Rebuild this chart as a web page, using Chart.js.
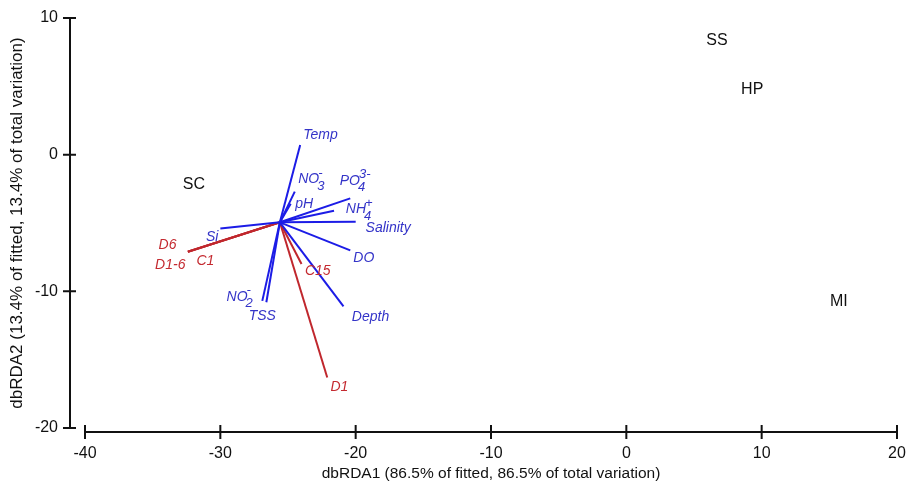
<!DOCTYPE html>
<html>
<head>
<meta charset="utf-8">
<script src="https://cdn.jsdelivr.net/npm/chart.js@4.4.1/dist/chart.umd.min.js"></script>
<style>
  html, body { margin: 0; padding: 0; background: #fff; }
  #wrap { width: 909px; height: 486px; }
</style>
</head>
<body>
<div id="wrap"><canvas id="rda"></canvas></div>
<script>
// origin of the biplot vectors
var origin = [-25.6, -4.95];

// environmental vectors (blue)
var envNames = ['Temp', 'NO3', 'pH', 'PO4', 'NH4', 'Salinity', 'DO', 'Depth', 'Si', 'NO2', 'TSS'];
var envX = [-24.1, -24.5, -24.8, -20.4, -21.6, -20.0, -20.4, -20.9, -30.0, -26.9, -26.6];
var envY = [0.7, -2.7, -3.6, -3.2, -4.1, -4.9, -7.0, -11.1, -5.4, -10.7, -10.8];

// labels for the blue vectors (base text, subscript, superscript, position)
var envBase = ['Temp', 'NO', 'pH', 'PO', 'NH', 'Salinity', 'DO', 'Depth', 'Si', 'NO', 'TSS'];
var envSub = ['', '3', '', '4', '4', '', '', '', '', '2', ''];
var envSup = ['', '-', '', '3-', '+', '', '', '', '', '-', ''];
var envLabelX = [-22.6, -23.2, -23.8, -20.0, -19.7, -17.6, -19.4, -18.9, -30.6, -28.5, -26.9];
var envLabelY = [1.4, -1.8, -3.6, -1.9, -4.0, -5.4, -7.6, -11.85, -6.0, -10.4, -11.8];

// species vectors (red)
var bioNames = ['D6', 'D1-6', 'C1', 'C15', 'D1'];
var bioX = [-32.4, -32.4, -32.4, -24.0, -22.1];
var bioY = [-7.1, -7.1, -7.1, -8.0, -16.3];
var bioLabelX = [-33.9, -33.7, -31.1, -22.8, -21.2];
var bioLabelY = [-6.65, -8.1, -7.8, -8.55, -17.0];

// sampling sites
var siteNames = ['SC', 'SS', 'HP', 'MI'];
var siteX = [-31.95, 6.7, 9.3, 15.7];
var siteY = [-2.2, 8.35, 4.75, -10.75];

var xTicks = [-40, -30, -20, -10, 0, 10, 20];
var yTicks = [-20, -10, 0, 10];

var blue = '#1c1ce6';
var red = '#c0272d';
var fontFam = '"Liberation Sans", Arial, sans-serif';

var datasets = [];
for (var i = 0; i < envNames.length; i++) {
    datasets.push({
        label: envNames[i],
        data: [{x: origin[0], y: origin[1]}, {x: envX[i], y: envY[i]}],
        showLine: true, borderColor: blue, borderWidth: 2, pointRadius: 0
    });
}
for (var j = 0; j < bioNames.length; j++) {
    datasets.push({
        label: bioNames[j],
        data: [{x: origin[0], y: origin[1]}, {x: bioX[j], y: bioY[j]}],
        showLine: true, borderColor: red, borderWidth: 2, pointRadius: 0
    });
}

// axis lines offset from the plot area, with crossing tick marks
var axesPlugin = {
    id: 'offsetAxes',
    afterDraw: function(chart) {
        var c = chart.ctx, xs = chart.scales.x, ys = chart.scales.y, a = chart.chartArea;
        var ax = a.left - 15, ay = a.bottom + 4;
        c.save();
        c.strokeStyle = '#111';
        c.lineWidth = 2;
        c.beginPath();
        c.moveTo(ax, ys.getPixelForValue(10));
        c.lineTo(ax, ys.getPixelForValue(-20));
        yTicks.forEach(function(v) {
            var p = ys.getPixelForValue(v);
            c.moveTo(ax - 7, p);
            c.lineTo(ax + 6, p);
        });
        c.moveTo(xs.getPixelForValue(-40), ay);
        c.lineTo(xs.getPixelForValue(20), ay);
        xTicks.forEach(function(v) {
            var p = xs.getPixelForValue(v);
            c.moveTo(p, ay - 7);
            c.lineTo(p, ay + 7);
        });
        c.stroke();
        c.restore();
    }
};

function drawChem(c, base, sub, sup, px, py) {
    c.font = 'italic 14px ' + fontFam;
    var wb = c.measureText(base).width;
    c.font = 'italic 13px ' + fontFam;
    var ws = Math.max(c.measureText(sub).width, c.measureText(sup).width);
    var x0 = px - (wb + ws) / 2;
    c.textAlign = 'left';
    c.textBaseline = 'middle';
    c.font = 'italic 14px ' + fontFam;
    c.fillText(base, x0, py);
    c.font = 'italic 13px ' + fontFam;
    if (sub) c.fillText(sub, x0 + wb - 2, py + 7);
    if (sup) c.fillText(sup, x0 + wb - 1, py - 6);
}

var labelPlugin = {
    id: 'biplotLabels',
    afterDatasetsDraw: function(chart) {
        var c = chart.ctx, xs = chart.scales.x, ys = chart.scales.y;
        c.save();
        c.fillStyle = '#3434c8';
        for (var i = 0; i < envBase.length; i++) {
            drawChem(c, envBase[i], envSub[i], envSup[i],
                xs.getPixelForValue(envLabelX[i]), ys.getPixelForValue(envLabelY[i]));
        }
        c.fillStyle = '#c42a30';
        c.font = 'italic 14px ' + fontFam;
        c.textAlign = 'center';
        c.textBaseline = 'middle';
        for (var j = 0; j < bioNames.length; j++) {
            c.fillText(bioNames[j], xs.getPixelForValue(bioLabelX[j]), ys.getPixelForValue(bioLabelY[j]));
        }
        c.fillStyle = '#111';
        c.font = '16px ' + fontFam;
        for (var k = 0; k < siteNames.length; k++) {
            c.fillText(siteNames[k], xs.getPixelForValue(siteX[k]), ys.getPixelForValue(siteY[k]));
        }
        c.restore();
    }
};

new Chart(document.getElementById('rda'), {
    type: 'scatter',
    data: { datasets: datasets },
    options: {
        responsive: true,
        maintainAspectRatio: false,
        animation: false,
        layout: { padding: { top: 18, right: 12, left: 0, bottom: 0 } },
        plugins: { legend: { display: false }, tooltip: { enabled: false } },
        scales: {
            x: {
                type: 'linear', min: -40, max: 20,
                afterFit: function(s) { s.height = 58; },
                grid: { display: false, drawTicks: true, tickLength: 14 },
                border: { display: false },
                afterBuildTicks: function(s) { s.ticks = xTicks.map(function(v) { return {value: v}; }); },
                ticks: { color: '#111', font: { size: 16, family: fontFam }, padding: 2, maxRotation: 0 },
                title: {
                    display: true, text: 'dbRDA1 (86.5% of fitted, 86.5% of total variation)',
                    color: '#111', font: { size: 15.5, family: fontFam }, padding: { top: 0, bottom: 3 }
                }
            },
            y: {
                type: 'linear', min: -20, max: 10,
                afterFit: function(s) { s.width = 85; },
                grid: { display: false, drawTicks: true, tickLength: 24 },
                border: { display: false },
                afterBuildTicks: function(s) { s.ticks = yTicks.map(function(v) { return {value: v}; }); },
                ticks: { color: '#111', font: { size: 16, family: fontFam }, padding: 3 },
                title: {
                    display: true, text: 'dbRDA2 (13.4% of fitted, 13.4% of total variation)',
                    color: '#111', font: { size: 17, family: fontFam }, padding: { top: 7, bottom: 0 }
                }
            }
        }
    },
    plugins: [axesPlugin, labelPlugin]
});
</script>
</body>
</html>
